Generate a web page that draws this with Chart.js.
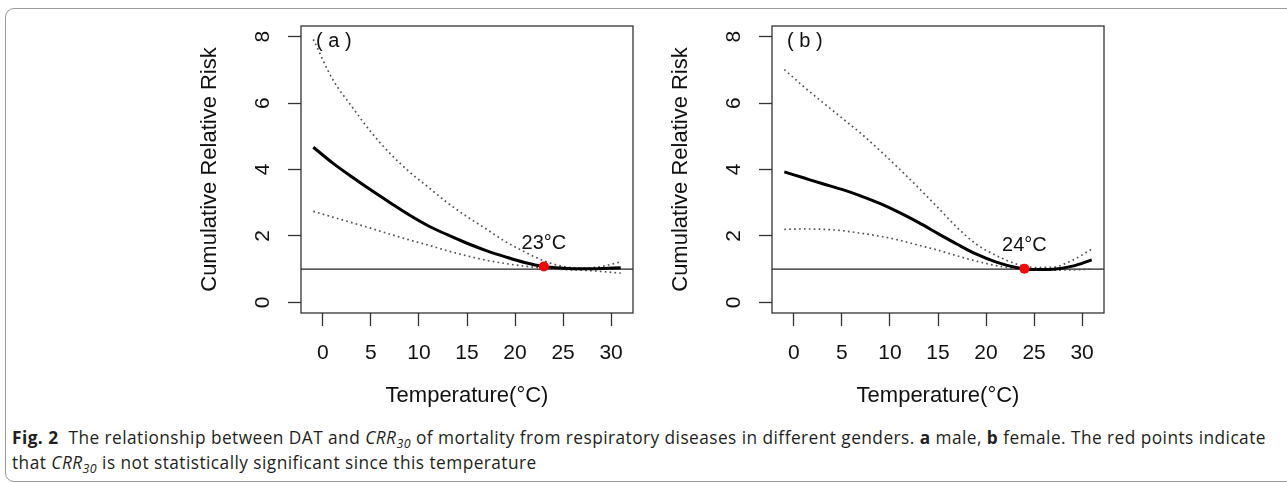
<!DOCTYPE html>
<html>
<head>
<meta charset="utf-8">
<script src="https://cdn.jsdelivr.net/npm/chart.js@4.4.1/dist/chart.umd.min.js"></script>
<style>
  html, body { margin: 0; padding: 0; background: #fff; }
  #page { position: relative; width: 1287px; height: 484px; overflow: hidden; }
  #frame { position: absolute; left: 5px; top: 8px; width: 1320px; height: 472px;
           border: 1.5px solid #9a9a9a; border-radius: 9px; }
  canvas { position: absolute; top: 0; }
  #cvA { left: 150px; }
  #cvB { left: 621px; }
  #caption { position: absolute; left: 12px; top: 425px; width: 1275px;
             font-family: "Open Sans", "Noto Sans", sans-serif; font-size: 17.3px;
             letter-spacing: 0.45px; line-height: 25px; color: #231f20; white-space: nowrap; }
  #caption sub { font-size: 0.72em; vertical-align: -0.3em; line-height: 0; }
</style>
</head>
<body>
<div id="page">
  <div id="frame"></div>
  <canvas id="cvA" width="500" height="420"></canvas>
  <canvas id="cvB" width="500" height="420"></canvas>
  <div id="caption"><b>Fig. 2</b>&nbsp; The relationship between DAT and <i>CRR<sub>30</sub></i> of mortality from respiratory diseases in different genders. <b>a</b> male, <b>b</b> female. The red points indicate<br>that <i>CRR<sub>30</sub></i> is not statistically significant since this temperature</div>
</div>
<script>
// temperature grid (°C) the curves are read at
const temps = [-1, 1, 3, 5, 7, 9, 11, 13, 15, 17, 19, 21, 23, 25, 27, 29, 31]

// (a) male
const maleRR   = [4.67, 4.20, 3.78, 3.38, 3.00, 2.63, 2.30, 2.03, 1.78, 1.56, 1.37, 1.20, 1.08, 1.03, 1.01, 1.02, 1.04]
const maleHigh = [7.92, 6.72, 5.90, 5.13, 4.48, 3.93, 3.46, 2.99, 2.58, 2.21, 1.83, 1.52, 1.25, 1.08, 1.03, 1.08, 1.22]
const maleLow  = [2.74, 2.57, 2.40, 2.23, 2.05, 1.88, 1.72, 1.55, 1.40, 1.27, 1.17, 1.09, 1.03, 0.99, 0.97, 0.93, 0.88]

// (b) female
const femaleRR   = [3.93, 3.75, 3.57, 3.40, 3.20, 2.97, 2.70, 2.40, 2.07, 1.75, 1.45, 1.22, 1.06, 0.99, 1.00, 1.09, 1.28]
const femaleHigh = [7.01, 6.50, 6.02, 5.55, 5.08, 4.56, 4.01, 3.44, 2.85, 2.25, 1.75, 1.42, 1.17, 1.05, 1.06, 1.27, 1.60]
const femaleLow  = [2.20, 2.21, 2.20, 2.16, 2.08, 1.99, 1.87, 1.72, 1.57, 1.40, 1.24, 1.11, 1.02, 0.98, 0.97, 0.98, 1.00]

// red points: temperature above which CRR30 is not significant
const mmtMale = 23, mmtMaleRR = 1.08
const mmtFemale = 24, mmtFemaleRR = 1.01

const xTicks = [0, 5, 10, 15, 20, 25, 30]
const yTicks = [0, 2, 4, 6, 8]
const refLevel = 1

const fontFam = '"Liberation Sans", Arial, Helvetica, sans-serif'

const decor = {
    id: 'decor',
    beforeDatasetsDraw(chart) {
        const {ctx, chartArea: a, scales: {y}} = chart
        const yr = y.getPixelForValue(refLevel)
        ctx.save()
        ctx.strokeStyle = '#222'
        ctx.lineWidth = 1.2
        ctx.beginPath()
        ctx.moveTo(a.left, yr)
        ctx.lineTo(a.right, yr)
        ctx.stroke()
        ctx.restore()
    },
    afterDraw(chart, args, opts) {
        const {ctx, chartArea: a, scales: {x, y}} = chart
        ctx.save()
        // plot box
        ctx.strokeStyle = '#333'
        ctx.lineWidth = 1.3
        ctx.strokeRect(a.left, a.top, a.right - a.left, a.bottom - a.top)

        ctx.fillStyle = '#111'
        // y tick labels, rotated like R's las = 0
        ctx.font = '21px ' + fontFam
        ctx.textAlign = 'center'
        ctx.textBaseline = 'middle'
        y.ticks.forEach(t => {
            ctx.save()
            ctx.translate(a.left - 39, y.getPixelForValue(t.value))
            ctx.rotate(-Math.PI / 2)
            ctx.fillText(String(t.value), 0, 1)
            ctx.restore()
        })

        // panel tag
        ctx.font = '20px ' + fontFam
        ctx.textAlign = 'left'
        ctx.fillText(opts.tag, a.left + 15, a.top + 15)

        // temperature label above the red point
        ctx.textAlign = 'center'
        ctx.fillText(opts.mmt + '°C', x.getPixelForValue(opts.mmt), y.getPixelForValue(opts.mmtRR) - 23)
        ctx.restore()
    }
}

function makePanel(id, rr, low, high, mmt, mmtRR, tag) {
    const pts = arr => temps.map((t, i) => ({x: t, y: arr[i]}))
    const dotted = {
        borderColor: '#555',
        borderWidth: 1.7,
        borderDash: [1.7, 3.2],
        pointRadius: 0,
        cubicInterpolationMode: 'monotone',
        fill: false
    }
    return new Chart(document.getElementById(id), {
        type: 'line',
        data: {
            datasets: [
                {
                    label: 'MMT',
                    data: [{x: mmt, y: mmtRR}],
                    showLine: false,
                    pointRadius: 5,
                    pointBackgroundColor: '#ff0000',
                    pointBorderWidth: 0
                },
                {
                    label: 'CRR30',
                    data: pts(rr),
                    borderColor: '#000',
                    borderWidth: 3,
                    pointRadius: 0,
                    cubicInterpolationMode: 'monotone',
                    fill: false
                },
                Object.assign({label: 'upper', data: pts(high)}, dotted),
                Object.assign({label: 'lower', data: pts(low)}, dotted)
            ]
        },
        options: {
            responsive: false,
            animation: false,
            layout: {padding: {top: 26, right: 17, left: 0, bottom: 0}},
            plugins: {
                legend: {display: false},
                tooltip: {enabled: false},
                decor: {tag: tag, mmt: mmt, mmtRR: mmtRR}
            },
            scales: {
                x: {
                    type: 'linear',
                    min: -2.28,
                    max: 32.28,
                    afterBuildTicks: s => { s.ticks = xTicks.map(v => ({value: v})) },
                    afterFit: s => { s.height = 107 },
                    border: {display: false},
                    grid: {drawOnChartArea: false, drawTicks: true, tickLength: 13, tickColor: '#333', tickWidth: 1.3},
                    ticks: {color: '#111', font: {family: fontFam, size: 21}, padding: 15, maxRotation: 0},
                    title: {
                        display: true,
                        text: 'Temperature(°C)',
                        color: '#111',
                        font: {family: fontFam, size: 22},
                        padding: {top: 0, bottom: 11}
                    }
                },
                y: {
                    type: 'linear',
                    min: -0.32,
                    max: 8.32,
                    afterBuildTicks: s => { s.ticks = yTicks.map(v => ({value: v})) },
                    afterFit: s => { s.width = 151 },
                    border: {display: false},
                    grid: {drawOnChartArea: false, drawTicks: true, tickLength: 13, tickColor: '#333', tickWidth: 1.3},
                    ticks: {display: false},
                    title: {
                        display: true,
                        text: 'Cumulative Relative Risk',
                        color: '#111',
                        font: {family: fontFam, size: 22},
                        padding: {top: 47, bottom: 0}
                    }
                }
            }
        },
        plugins: [decor]
    })
}

makePanel('cvA', maleRR, maleLow, maleHigh, mmtMale, mmtMaleRR, '( a )')
makePanel('cvB', femaleRR, femaleLow, femaleHigh, mmtFemale, mmtFemaleRR, '( b )')
</script>
</body>
</html>
